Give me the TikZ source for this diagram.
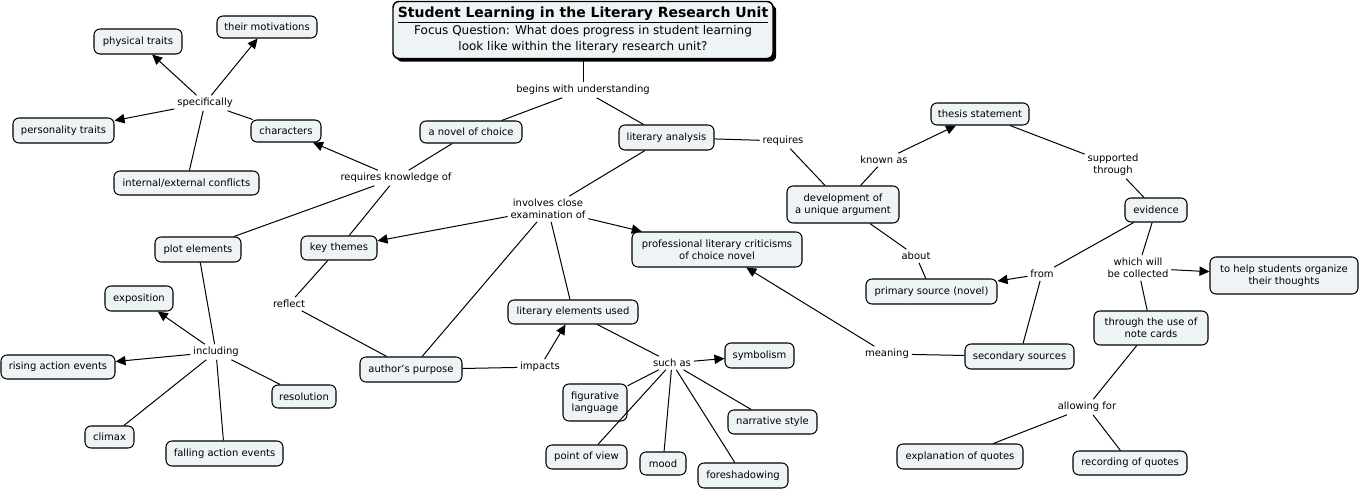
\documentclass[tikz,border=0pt]{standalone}
\usepackage{fontspec}
\setmainfont{DejaVu Sans}
\usetikzlibrary{arrows.meta,shadows}
\definecolor{boxfill}{HTML}{EEF3F5}
\begin{document}
\begin{tikzpicture}[x=0.75pt,y=-0.75pt,
  font=\fontsize{7.5}{9}\selectfont,
  concept/.style={draw=black, line width=0.8pt, fill=boxfill, rounded corners=4.5pt, align=center, inner sep=1pt},
  sz/.style 2 args={minimum width=#1*0.75pt, minimum height=#2*0.75pt},
  phrase/.style={align=center, inner sep=2pt},
  conn/.style={line width=0.75pt, draw=black},
  arr/.style={conn, -{Triangle[length=7.5pt,width=7pt]}}
]
\path[use as bounding box, fill=white] (0,0) rectangle (1360,491);

% title
\node[concept, sz={380}{57}, line width=1.1pt, font=\fontsize{9}{12}\selectfont,
      drop shadow={shadow xshift=2.4pt, shadow yshift=-2.4pt, fill=black, opacity=1}] (title) at (583,30)
 {{\fontsize{10.5}{12}\selectfont\underline{\textbf{Student Learning in the Literary Research Unit}}}\\[0.5pt]
  Focus Question: What does progress in student learning\\
  look like within the literary research unit?};

% concepts
\node[concept, sz={102}{22}] (novel) at (471,132) {a novel of choice};
\node[concept, sz={95}{25}] (litan) at (666.5,137.5) {literary analysis};
\node[concept, sz={112}{37}] (dev) at (843,204.5) {development of\\a unique argument};
\node[concept, sz={98}{22}] (thesis) at (980,114) {thesis statement};
\node[concept, sz={62}{24}] (evid) at (1156,210) {evidence};
\node[concept, sz={148}{37}] (help) at (1284,275.5) {to help students organize\\their thoughts};
\node[concept, sz={131}{25}] (prim) at (931.5,291.5) {primary source (novel)};
\node[concept, sz={170}{35}] (crit) at (717,249.5) {professional literary criticisms\\of choice novel};
\node[concept, sz={109}{25}] (sec) at (1019.5,356.5) {secondary sources};
\node[concept, sz={114}{34}] (cards) at (1151,328) {through the use of\\note cards};
\node[concept, sz={126}{25}] (expl) at (960,456.5) {explanation of quotes};
\node[concept, sz={114}{24}] (rec) at (1130,463) {recording of quotes};
\node[concept, sz={88}{25}] (phys) at (138,41.5) {physical traits};
\node[concept, sz={100}{22}] (motiv) at (267,27) {their motivations};
\node[concept, sz={101}{25}] (pers) at (63.5,130.5) {personality traits};
\node[concept, sz={70}{22}] (char) at (286,131) {characters};
\node[concept, sz={145}{24}] (conf) at (186.5,183) {internal/external conflicts};
\node[concept, sz={86}{25}] (plot) at (198,249.5) {plot elements};
\node[concept, sz={76}{24}] (themes) at (339,248) {key themes};
\node[concept, sz={68}{25}] (expo) at (139,298.5) {exposition};
\node[concept, sz={114}{24}] (rising) at (58,367) {rising action events};
\node[concept, sz={64}{23}] (resol) at (304,396.5) {resolution};
\node[concept, sz={49}{22}] (climax) at (109.5,437) {climax};
\node[concept, sz={117}{25}] (fall) at (224.5,453.5) {falling action events};
\node[concept, sz={102}{25}] (author) at (411,369.5) {author's purpose};
\node[concept, sz={130}{24}] (litel) at (573,312) {literary elements used};
\node[concept, sz={69}{25}] (symb) at (759.5,355.5) {symbolism};
\node[concept, sz={64}{37}] (fig) at (595,402.5) {figurative\\language};
\node[concept, sz={89}{24}] (narr) at (772.5,422) {narrative style};
\node[concept, sz={81}{24}] (pov) at (586.5,457) {point of view};
\node[concept, sz={46}{23}] (mood) at (663,463.5) {mood};
\node[concept, sz={90}{25}] (fore) at (743,475.5) {foreshadowing};

% linking phrases
\node[phrase] (begins) at (583,90) {begins with understanding};
\node[phrase] (reqknow) at (396,178) {requires knowledge of};
\node[phrase] (specif) at (205,103) {specifically};
\node[phrase] (involves) at (548,209) {involves close\\examination of};
\node[phrase] (reflect) at (289,304) {reflect};
\node[phrase] (including) at (216,352) {including};
\node[phrase] (impacts) at (540,367) {impacts};
\node[phrase] (suchas) at (672,363) {such as};
\node[phrase] (requires) at (783,141) {requires};
\node[phrase] (knownas) at (884,160) {known as};
\node[phrase] (about) at (916,256) {about};
\node[phrase] (supp) at (1113,165) {supported\\through};
\node[phrase] (from) at (1042,274) {from};
\node[phrase] (which) at (1138,268) {which will\\be collected};
\node[phrase] (meaning) at (887,354) {meaning};
\node[phrase] (allowing) at (1087,407) {allowing for};

% connectors
\draw[conn] (title) -- (begins);
\draw[conn] (begins) -- (novel);
\draw[conn] (begins) -- (litan);
\draw[conn] (novel) -- (reqknow);
\draw[arr] (reqknow) -- (char);
\draw[conn] (reqknow) -- (themes);
\draw[conn] (reqknow) -- (plot);
\draw[conn] (char) -- (specif);
\draw[arr] (specif) -- (phys);
\draw[arr] (specif) -- (motiv);
\draw[arr] (specif) -- (pers);
\draw[conn] (specif) -- (conf);
\draw[conn] (plot) -- (including);
\draw[arr] (including) -- (expo);
\draw[arr] (including) -- (rising);
\draw[conn] (including) -- (climax);
\draw[conn] (including) -- (fall);
\draw[conn] (including) -- (resol);
\draw[conn] (themes) -- (reflect);
\draw[conn] (reflect) -- (author);
\draw[conn] (litan) -- (involves);
\draw[arr] (involves) -- (themes);
\draw[arr] (involves) -- (crit);
\draw[conn] (involves) -- (author);
\draw[conn] (involves) -- (litel);
\draw[conn] (author) -- (impacts);
\draw[arr] (impacts) -- (litel);
\draw[conn] (litel) -- (suchas);
\draw[arr] (suchas) -- (symb);
\draw[conn] (suchas) -- (fig);
\draw[conn] (suchas) -- (pov);
\draw[conn] (suchas) -- (mood);
\draw[conn] (suchas) -- (fore);
\draw[conn] (suchas) -- (narr);
\draw[conn] (litan) -- (requires);
\draw[conn] (requires) -- (dev);
\draw[conn] (dev) -- (knownas);
\draw[arr] (knownas) -- (thesis);
\draw[conn] (thesis) -- (supp);
\draw[conn] (supp) -- (evid);
\draw[conn] (evid) -- (from);
\draw[arr] (from) -- (prim);
\draw[conn] (from) -- (sec);
\draw[conn] (dev) -- (about);
\draw[conn] (about) -- (prim);
\draw[conn] (evid) -- (which);
\draw[arr] (which) -- (help);
\draw[conn] (which) -- (cards);
\draw[conn] (cards) -- (allowing);
\draw[conn] (allowing) -- (expl);
\draw[conn] (allowing) -- (rec);
\draw[conn] (sec) -- (meaning);
\draw[arr] (meaning) -- (crit);
\end{tikzpicture}
\end{document}
